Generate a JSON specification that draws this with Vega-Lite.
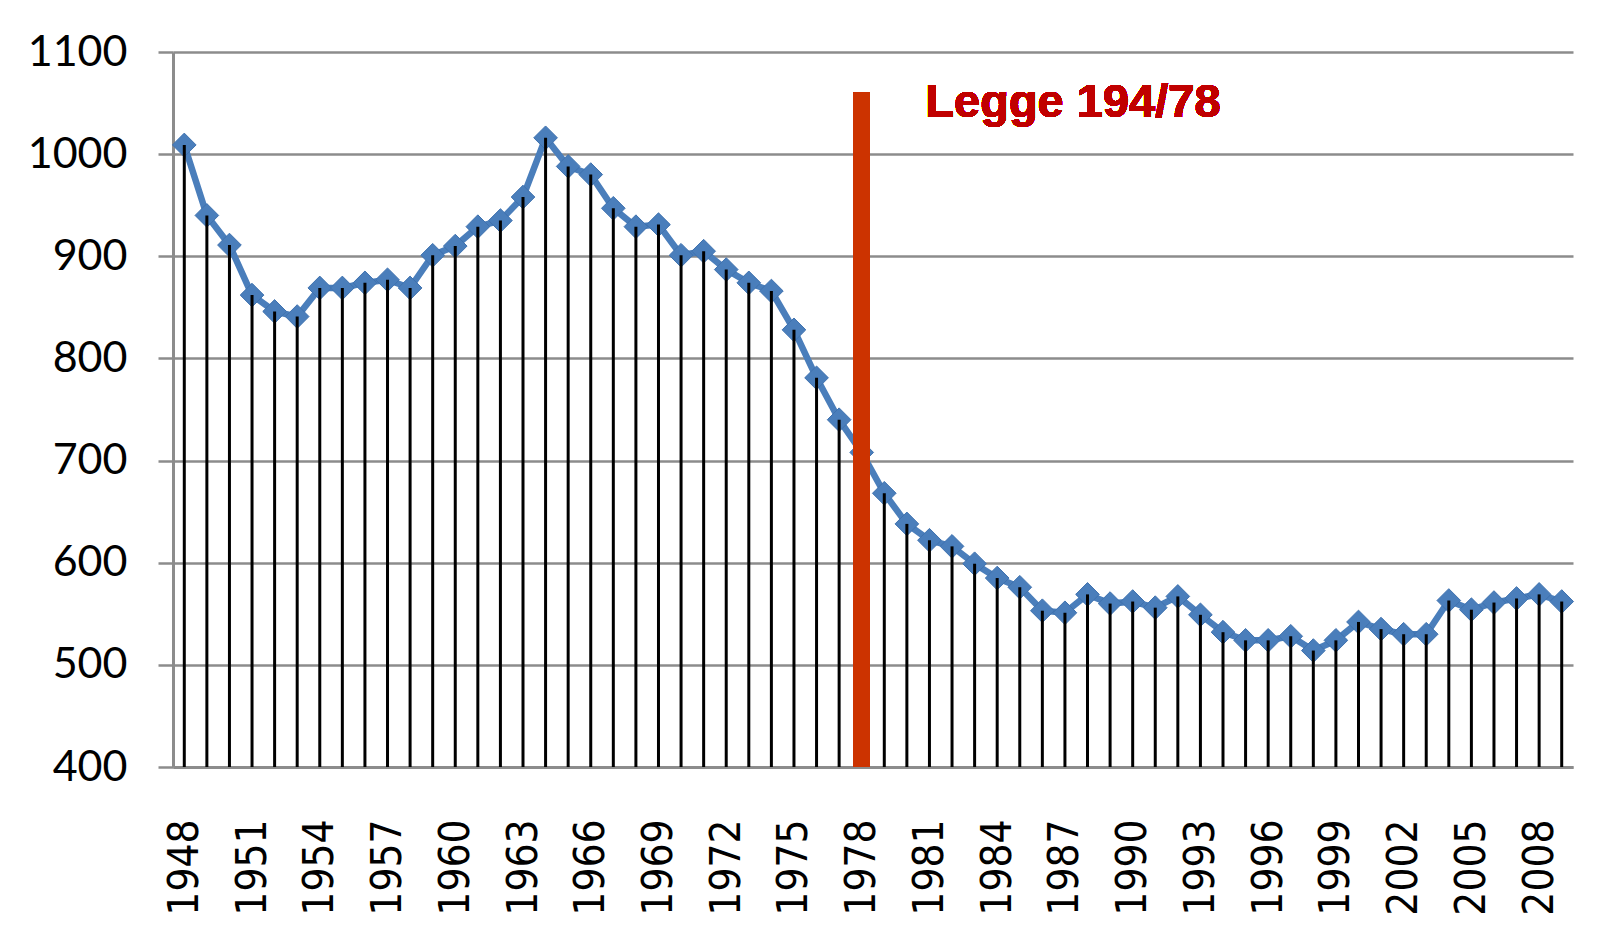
{
  "$schema": "https://vega.github.io/schema/vega-lite/v6.json",
  "autosize": {"type": "none"},
  "width": 1400,
  "height": 715,
  "padding": {"left": 173, "top": 52, "right": 35, "bottom": 169},
  "background": "white",
  "config": {"view": {"stroke": null}},
  "data": {"values": [
    {"year": 1948, "value": 1009}, {"year": 1949, "value": 940}, {"year": 1950, "value": 911},
    {"year": 1951, "value": 862}, {"year": 1952, "value": 846}, {"year": 1953, "value": 841},
    {"year": 1954, "value": 869}, {"year": 1955, "value": 869}, {"year": 1956, "value": 874},
    {"year": 1957, "value": 877}, {"year": 1958, "value": 869}, {"year": 1959, "value": 901},
    {"year": 1960, "value": 910}, {"year": 1961, "value": 929}, {"year": 1962, "value": 935},
    {"year": 1963, "value": 958}, {"year": 1964, "value": 1016}, {"year": 1965, "value": 988},
    {"year": 1966, "value": 980}, {"year": 1967, "value": 947}, {"year": 1968, "value": 929},
    {"year": 1969, "value": 931}, {"year": 1970, "value": 901}, {"year": 1971, "value": 905},
    {"year": 1972, "value": 887}, {"year": 1973, "value": 874}, {"year": 1974, "value": 866},
    {"year": 1975, "value": 828}, {"year": 1976, "value": 781}, {"year": 1977, "value": 740},
    {"year": 1978, "value": 708}, {"year": 1979, "value": 668}, {"year": 1980, "value": 638},
    {"year": 1981, "value": 622}, {"year": 1982, "value": 616}, {"year": 1983, "value": 599},
    {"year": 1984, "value": 585}, {"year": 1985, "value": 576}, {"year": 1986, "value": 553},
    {"year": 1987, "value": 551}, {"year": 1988, "value": 569}, {"year": 1989, "value": 560},
    {"year": 1990, "value": 562}, {"year": 1991, "value": 556}, {"year": 1992, "value": 567},
    {"year": 1993, "value": 549}, {"year": 1994, "value": 532}, {"year": 1995, "value": 524},
    {"year": 1996, "value": 524}, {"year": 1997, "value": 528}, {"year": 1998, "value": 514},
    {"year": 1999, "value": 524}, {"year": 2000, "value": 542}, {"year": 2001, "value": 535},
    {"year": 2002, "value": 530}, {"year": 2003, "value": 530}, {"year": 2004, "value": 563},
    {"year": 2005, "value": 554}, {"year": 2006, "value": 561}, {"year": 2007, "value": 565},
    {"year": 2008, "value": 569}, {"year": 2009, "value": 562}
  ]},
  "encoding": {
    "x": {
      "field": "year", "type": "ordinal",
      "scale": {"type": "point", "padding": 0.5},
      "axis": {
        "title": null,
        "values": [1948, 1951, 1954, 1957, 1960, 1963, 1966, 1969, 1972, 1975, 1978, 1981, 1984, 1987, 1990, 1993, 1996, 1999, 2002, 2005, 2008],
        "labelAngle": -90,
        "labelFont": "DejaVu Sans Condensed",
        "labelFontSize": 42,
        "labelColor": "black",
        "labelPadding": 52,
        "ticks": false,
        "grid": false,
        "domainColor": "#8c8c8c",
        "domainWidth": 3,
        "zindex": 0
      }
    },
    "y": {
      "field": "value", "type": "quantitative",
      "scale": {"domain": [400, 1100], "nice": false, "zero": false},
      "axis": {
        "title": null,
        "format": "d",
        "values": [400, 500, 600, 700, 800, 900, 1000, 1100],
        "labelFont": "Lato",
        "labelFontSize": 43,
        "labelColor": "black",
        "labelPadding": 31,
        "tickSize": 15,
        "tickColor": "#8c8c8c",
        "tickWidth": 2.5,
        "grid": true,
        "gridColor": "#8c8c8c",
        "gridWidth": 2.5,
        "domainColor": "#8c8c8c",
        "domainWidth": 3,
        "zindex": 0
      }
    }
  },
  "layer": [
    {
      "mark": {"type": "line", "color": "#4A7EBB", "strokeWidth": 6.5}
    },
    {
      "mark": {"type": "point", "shape": "diamond", "filled": true, "size": 560, "color": "#4A7EBB", "stroke": "#3F72AF", "strokeWidth": 1, "opacity": 1}
    },
    {
      "mark": {"type": "rule", "color": "black", "strokeWidth": 3},
      "encoding": {"y2": {"datum": 400}}
    },
    {
      "mark": {"type": "rule", "color": "#CC3300", "strokeWidth": 16, "strokeCap": "butt"},
      "encoding": {
        "x": {"datum": 1978},
        "y": {"datum": 400},
        "y2": {"datum": 1060}
      }
    },
    {
      "mark": {"type": "text", "text": "Legge 194/78", "font": "Liberation Sans", "fontWeight": "bold", "fontSize": 47, "color": "#C00000", "align": "center", "baseline": "alphabetic", "dx": 8},
      "encoding": {
        "x": {"datum": 1987},
        "y": {"datum": 1036}
      }
    }
  ]
}
